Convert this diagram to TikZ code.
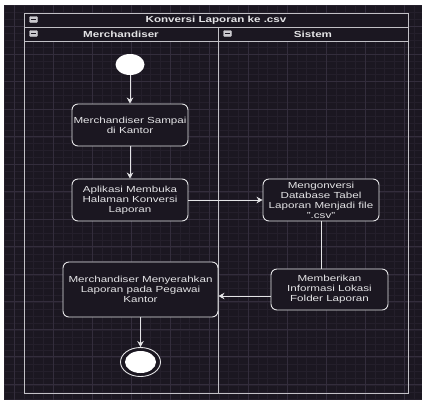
\documentclass[tikz,border=0pt]{standalone}
\usepackage{fontspec}
\setmainfont{Liberation Sans}[FakeStretch=1.32]
\usetikzlibrary{arrows.meta, shapes.geometric}
\definecolor{bg}{HTML}{1B1721}
\definecolor{gmin}{HTML}{241F2B}
\definecolor{gmaj}{HTML}{332D3C}
\definecolor{lanec}{HTML}{C2C1C6}
\definecolor{ln}{HTML}{E4E4E6}

\begin{document}
\begin{tikzpicture}[x=1pt, y=-1pt,
    txt/.style={text=ln, font=\fontsize{8.8}{10}\selectfont},
    hd/.style={text=ln, font=\fontsize{8.8}{10}\selectfont\bfseries},
    act/.style={txt, draw=ln, fill=bg, line width=0.9pt, rounded corners=6pt, align=center,
        minimum width=116, minimum height=42, inner sep=1pt},
    tog/.style={fill=lanec!85, draw=lanec, rounded corners=0.8pt, minimum width=8, minimum height=6, inner sep=0,
        path picture={\draw[bg, line width=1.1pt]([xshift=1.6pt]path picture bounding box.west)--([xshift=-1.6pt]path picture bounding box.east);}},
    arr/.style={draw=ln, line width=0.9pt, -{Stealth[length=6pt, width=6.5pt]}}]
    \useasboundingbox (0,0) rectangle (422,400);
    \fill[white] (0,0) rectangle (422,400);
    \fill[bg] (4,5) rectangle (422,400);
    % background grid
    \begin{scope}
        \clip (4,5) rectangle (422,400);
        \foreach \x in {4.25,14,...,422} \draw[gmin, line width=0.5pt] (\x,5)--(\x,400);
        \foreach \y in {5.7,12.6,...,400} \draw[gmin, line width=0.5pt] (4,\y)--(422,\y);
        \foreach \x in {14,53,...,422} \draw[gmaj, line width=0.7pt] (\x,5)--(\x,400);
        \foreach \y in {26.5,54,...,400} \draw[gmaj, line width=0.7pt] (4,\y)--(422,\y);
    \end{scope}
    % swimlanes
    \draw[lanec, line width=1pt, fill=bg] (24,13) rectangle (408,41);
    \draw[lanec, line width=1pt] (24,27)--(408,27) (24,13) rectangle (408,393) (218,27)--(218,393);
    \node[hd] (ttl) at (216,20) {Konversi Laporan ke .csv};
    \node[hd] (l1) at (121,34) {Merchandiser};
    \node[hd] (l2) at (313,34) {Sistem};
    \node[tog] at (33.5,19.5) {};
    \node[tog] at (33.5,33.5) {};
    \node[tog] at (227.5,33.5) {};
    % activities
    \node[ellipse, fill=white, minimum width=29, minimum height=21, inner sep=0] (st) at (130,64.5) {};
    \node[act] (a1) at (130,125) {Merchandiser Sampai\\di Kantor};
    \node[act] (a2) at (130,200) {Aplikasi Membuka\\Halaman Konversi\\Laporan};
    \node[act] (a3) at (321,200) {Mengonversi\\Database Tabel\\Laporan Menjadi file\\".csv"};
    \node[act, minimum width=117, minimum height=41] (a4) at (329.5,289.5) {Memberikan\\Informasi Lokasi\\Folder Laporan};
    \node[act, minimum width=155, minimum height=55] (a5) at (140.5,289.5) {Merchandiser Menyerahkan\\Laporan pada Pegawai\\Kantor};
    \node[ellipse, draw=ln, fill=bg, line width=0.9pt, minimum width=40, minimum height=29, inner sep=0] (fin) at (140.5,362) {};
    \node[ellipse, fill=white, minimum width=31, minimum height=22, inner sep=0] at (fin) {};
    % flow
    \draw[arr] (st.270)--(a1.90);
    \draw[arr] (a1.270)--(a2.90);
    \draw[arr] (a2.0)--(a3.180);
    \draw[ln, line width=0.9pt] (a3.270)--(a3.270 |- a4.90);
    \draw[arr] ([yshift=-6.5pt]a4.180)--([yshift=-6.5pt]a5.0);
    \draw[arr] (a5.270)--(fin.90);
\end{tikzpicture}
\end{document}
